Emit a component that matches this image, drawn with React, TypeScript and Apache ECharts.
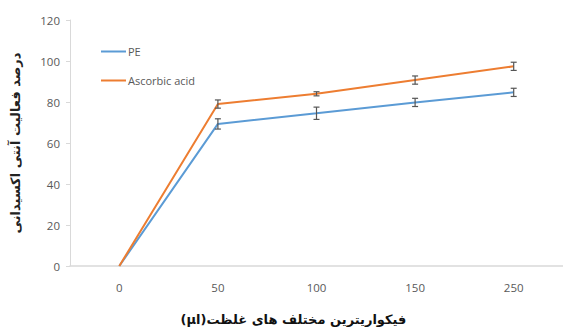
import React, { useEffect, useRef } from "react";
import * as echarts from "echarts";

const categories = ["0", "50", "100", "150", "250"];
const peValues = [0, 69.3, 74.5, 79.8, 84.7];
const peErrors = [0, 2.5, 3, 2, 2];
const aaValues = [0, 79, 84, 90.7, 97.4];
const aaErrors = [0, 2, 1, 2, 2];
const yTicks = [0, 20, 40, 60, 80, 100, 120];

const xName = "(µl)غلظت\u200E های\u200E مختلف\u200E فیکواریترین";
const yName = "درصد فعالیت آنتی اکسیدانی";

function errorSeries(values: number[], errs: number[]) {
  const data = values.map((v, i) => [i, v, errs[i]]);
  return {
    type: "custom",
    silent: true,
    z: 5,
    data,
    renderItem: (params: any, api: any) => {
      const i = api.value(0);
      const v = api.value(1);
      const e = api.value(2);
      if (!e) return { type: "group", children: [] };
      const top = api.coord([i, v + e]);
      const bot = api.coord([i, v - e]);
      const cap = 3;
      const style = { stroke: "#555555", lineWidth: 1.2 };
      return {
        type: "group",
        children: [
          { type: "line", shape: { x1: top[0], y1: top[1], x2: bot[0], y2: bot[1] }, style },
          { type: "line", shape: { x1: top[0] - cap, y1: top[1], x2: top[0] + cap, y2: top[1] }, style },
          { type: "line", shape: { x1: bot[0] - cap, y1: bot[1], x2: bot[0] + cap, y2: bot[1] }, style },
        ],
      };
    },
  };
}

export default function App() {
  const ref = useRef<HTMLDivElement>(null);
  useEffect(() => {
    document.body.style.margin = "0";
    const chart = echarts.init(ref.current!, null, { renderer: "svg" });
    chart.setOption({
      animation: false,
      backgroundColor: "#ffffff",
      grid: { left: 70, right: -3, top: 20, bottom: 65 },
      legend: {
        orient: "vertical",
        left: 96,
        top: 41,
        icon: "rect",
        itemWidth: 25,
        itemHeight: 2,
        itemGap: 18,
        textStyle: { color: "#595959", fontSize: 11, fontFamily: "Open Sans", padding: [0, 0, 0, -3] },
        data: ["PE", "Ascorbic acid"],
      },
      xAxis: {
        type: "category",
        data: categories,
        boundaryGap: true,
        axisLine: { lineStyle: { color: "#d9d9d9", width: 1.5 } },
        axisTick: { show: false },
        axisLabel: { color: "#595959", fontSize: 11.5, fontFamily: "Open Sans", margin: 15 },
        name: xName,
        nameLocation: "middle",
        nameGap: 47,
        nameTextStyle: {
          color: "#111111",
          fontSize: 13,
          fontWeight: "bold",
          fontFamily: "DejaVu Sans",
          padding: [0, 46, 0, 0],
        },
      },
      yAxis: {
        type: "value",
        min: 0,
        max: 120,
        interval: 20,
        axisLine: { show: true, lineStyle: { color: "#d9d9d9", width: 1 } },
        axisTick: { show: true, length: 4, lineStyle: { color: "#d9d9d9" } },
        splitLine: { show: false },
        axisLabel: {
          color: "#595959",
          fontSize: 11.5,
          fontFamily: "Open Sans",
          margin: 10,
          formatter: (v: number) => (yTicks.includes(v) ? String(v) : ""),
        },
        name: yName,
        nameLocation: "middle",
        nameGap: 48,
        nameRotate: 90,
        nameTextStyle: { color: "#222222", fontSize: 13, fontWeight: "bold", fontFamily: "DejaVu Sans" },
      },
      series: [
        {
          name: "PE",
          type: "line",
          data: peValues,
          symbol: "none",
          lineStyle: { color: "#5b9bd5", width: 2 },
          itemStyle: { color: "#5b9bd5" },
          z: 3,
        },
        {
          name: "Ascorbic acid",
          type: "line",
          data: aaValues,
          symbol: "none",
          lineStyle: { color: "#ed7d31", width: 2 },
          itemStyle: { color: "#ed7d31" },
          z: 3,
        },
        errorSeries(peValues, peErrors),
        errorSeries(aaValues, aaErrors),
      ],
    });
    return () => chart.dispose();
  }, []);
  return <div ref={ref} style={{ width: 563, height: 331 }} />;
}
